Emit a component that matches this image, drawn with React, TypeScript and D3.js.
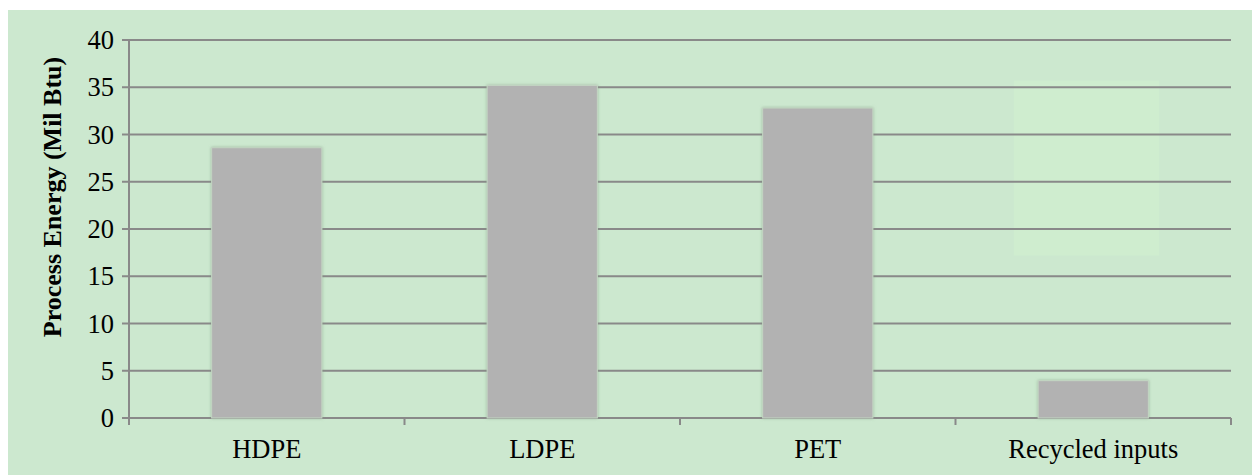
import React from "react";
import * as d3 from "d3";

// Process energy per material, in million Btu
const categories: string[] = ["HDPE", "LDPE", "PET", "Recycled inputs"];
const energyValues: number[] = [28.6, 35.2, 32.8, 3.95];
const yTicks: number[] = [0, 5, 10, 15, 20, 25, 30, 35, 40];
const yTitle = "Process Energy (Mil Btu)";

const W = 1252;
const H = 467;
const margin = { top: 32, right: 29, bottom: 57, left: 121 };
const FONT = "'Liberation Serif', 'Times New Roman', serif";

export default function App() {
  const innerW = W - margin.left - margin.right;
  const innerH = H - margin.top - margin.bottom;

  const x = d3.scaleBand<string>().domain(categories).range([0, innerW]).paddingInner(0.6).paddingOuter(0.3);
  const band = d3.scaleBand<string>().domain(categories).range([0, innerW]);
  const y = d3.scaleLinear().domain([0, 40]).range([innerH, 0]);

  const gridColor = "#898989";

  // faint highlight panel behind the last column
  const last = categories[categories.length - 1];
  const hlX0 = (band(last) ?? 0) + band.bandwidth() * 0.212;
  const hlX1 = (band(last) ?? 0) + band.bandwidth() * 0.739;

  return (
    <svg width={W} height={H} style={{ display: "block" }}>
      <defs>
        <filter id="barShadow" x="-10%" y="-10%" width="120%" height="120%">
          <feDropShadow dx="0" dy="0" stdDeviation="1.5" floodColor="#7f9a80" floodOpacity="0.6" />
        </filter>
      </defs>
      <rect x={0} y={2} width={W} height={H - 2} fill="#cce8cf" />
      <g transform={`translate(${margin.left},${margin.top})`}>
        <rect x={hlX0} y={y(35.7)} width={hlX1 - hlX0} height={y(17.2) - y(35.7)} fill="#cfedcf" />
        {yTicks.map((t) => (
          <g key={t}>
            <line x1={-7} x2={innerW} y1={y(t)} y2={y(t)} stroke={gridColor} strokeWidth={2} />
            <text x={-15} y={y(t)} dy="0.34em" textAnchor="end" fontFamily={FONT} fontSize={26.5} fill="#000">
              {t}
            </text>
          </g>
        ))}
        <line x1={0} x2={0} y1={y(40)} y2={innerH + 7} stroke={gridColor} strokeWidth={2} />
        {categories.map((c) => (
          <line
            key={"tick" + c}
            x1={(band(c) ?? 0) + band.bandwidth()}
            x2={(band(c) ?? 0) + band.bandwidth()}
            y1={innerH}
            y2={innerH + 7}
            stroke={gridColor}
            strokeWidth={2}
          />
        ))}
        {categories.map((c, i) => (
          <rect
            key={"bar" + c}
            x={x(c)}
            y={y(energyValues[i])}
            width={x.bandwidth()}
            height={innerH - y(energyValues[i])}
            fill="#b2b2b2"
            stroke="#c3d6c3"
            strokeWidth={1}
            filter="url(#barShadow)"
          />
        ))}
        {categories.map((c) => (
          <text
            key={"lbl" + c}
            x={(band(c) ?? 0) + band.bandwidth() / 2}
            y={innerH + 40}
            textAnchor="middle"
            fontFamily={FONT}
            fontSize={26.5}
            fill="#000"
          >
            {c}
          </text>
        ))}
      </g>
      <text
        transform={`translate(53,${189}) rotate(-90)`}
        textAnchor="middle"
        fontFamily={FONT}
        fontSize={26}
        fontWeight="bold"
        fill="#000"
      >
        {yTitle}
      </text>
    </svg>
  );
}
